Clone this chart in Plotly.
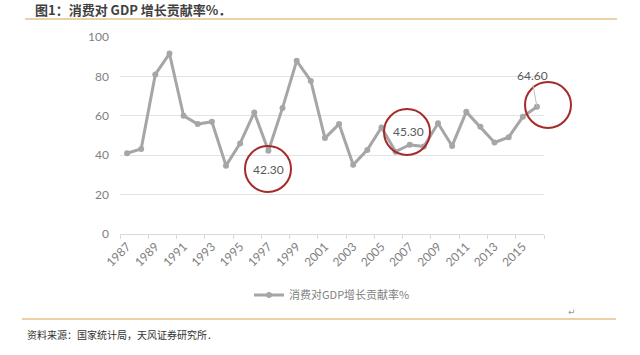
import plotly.graph_objects as go

years = list(range(1987, 2017))
values = [41.0, 43.2, 81.0, 91.6, 60.0, 55.8, 57.0, 34.7, 46.0, 61.7,
          42.3, 64.0, 87.9, 77.7, 48.7, 55.8, 35.1, 42.7, 54.1, 41.8,
          45.3, 44.4, 56.2, 44.7, 62.0, 54.5, 46.5, 49.1, 59.5, 64.6]
tick_years = list(range(1987, 2016, 2))
series_name = "消费对GDP增长贡献率%"
title_text = "图1：消费对 GDP 增长贡献率%．"
source_text = "资料来源：国家统计局，天风证券研究所．"
labeled = {1997: "42.30", 2007: "45.30", 2016: "64.60"}

W, H = 640, 355
L, R, T, B = 120, 96, 37, 121

def px(x):
    return (x - L) / (W - L - R)

def py(y):
    return (H - B - y) / (H - B - T)

fig = go.Figure()
fig.add_trace(go.Scatter(
    x=years, y=values, mode="lines+markers", name=series_name,
    line=dict(color="#a6a6a6", width=3),
    marker=dict(color="#a6a6a6", size=6),
))

cjk = "Noto Sans CJK SC"
grey = "#666666"

# data labels
idx = {y: i for i, y in enumerate(years)}
fig.add_annotation(x=1997, y=values[idx[1997]], text=labeled[1997], showarrow=False,
                   yshift=-19, font=dict(family="Lato", size=12, color="#595959"))
fig.add_annotation(x=2007, y=values[idx[2007]], text=labeled[2007], showarrow=False,
                   yshift=13, xshift=-1, font=dict(family="Lato", size=12, color="#595959"))
fig.add_annotation(x=2016, y=values[idx[2016]], text=labeled[2016], showarrow=True,
                   arrowhead=0, arrowcolor="#bfbfbf", arrowwidth=1, ax=-4, ay=-22,
                   yanchor="bottom",
                   font=dict(family="Lato", size=12, color="#595959"))

# red circles (paper-anchored so they are not clipped by the plot area)
for cxp, cyp in [(268, 169), (407, 132), (548, 105)]:
    fig.add_shape(type="circle", xref="paper", yref="paper", xsizemode="pixel", ysizemode="pixel",
                  xanchor=px(cxp), yanchor=py(cyp), x0=-23, x1=23, y0=-23, y1=23,
                  line=dict(color="#a52a2a", width=2))

# title, rules, source
fig.add_annotation(xref="paper", yref="paper", x=px(33), y=py(9), xanchor="left", yanchor="middle",
                   text="<b>" + title_text + "</b>", showarrow=False,
                   font=dict(family=cjk, size=13, color="#404040"))
fig.add_shape(type="line", xref="paper", yref="paper", x0=px(25), x1=px(617), y0=py(19), y1=py(19),
              line=dict(color="#e8c08a", width=1.5))
fig.add_shape(type="line", xref="paper", yref="paper", x0=px(22), x1=px(616), y0=py(319), y1=py(319),
              line=dict(color="#e8c08a", width=1.5))
fig.add_annotation(xref="paper", yref="paper", x=px(25), y=py(334), xanchor="left", yanchor="middle",
                   text=source_text, showarrow=False,
                   font=dict(family=cjk, size=10, color="#333333"))
fig.add_annotation(xref="paper", yref="paper", x=px(572), y=py(312), xanchor="center", yanchor="middle",
                   text="↵", showarrow=False, font=dict(family="DejaVu Sans", size=9, color="#999999"))

fig.update_layout(
    width=W, height=H,
    margin=dict(l=L, r=R, t=T, b=B),
    paper_bgcolor="white", plot_bgcolor="white",
    showlegend=True,
    legend=dict(orientation="h", x=0.5, xanchor="center", y=py(295), yanchor="middle",
                font=dict(family=cjk, size=11, color="#7f7f7f"), itemwidth=30),
    font=dict(family="Lato", color=grey),
)
fig.update_xaxes(
    range=[1986.5, 2016.5], tickvals=tick_years, ticktext=[str(y) for y in tick_years],
    tickangle=-45, ticks="", showgrid=False, zeroline=False,
    showline=True, linecolor="#d9d9d9", linewidth=1,
    tickfont=dict(family="Lato", size=12, color="#7f7f7f"),
    minor=dict(tickvals=[y + 0.5 for y in range(1986, 2017, 2)], ticks="outside",
               ticklen=4, tickcolor="#d9d9d9", showgrid=False),
)
fig.update_yaxes(
    range=[0, 100], tickvals=[0, 20, 40, 60, 80, 100], showgrid=True, gridcolor="#e3e3e3",
    zeroline=False, ticks="", showline=False,
    tickfont=dict(family="Lato", size=12, color="#7f7f7f"), ticklabelstandoff=10,
)

fig.write_html("out.html")
